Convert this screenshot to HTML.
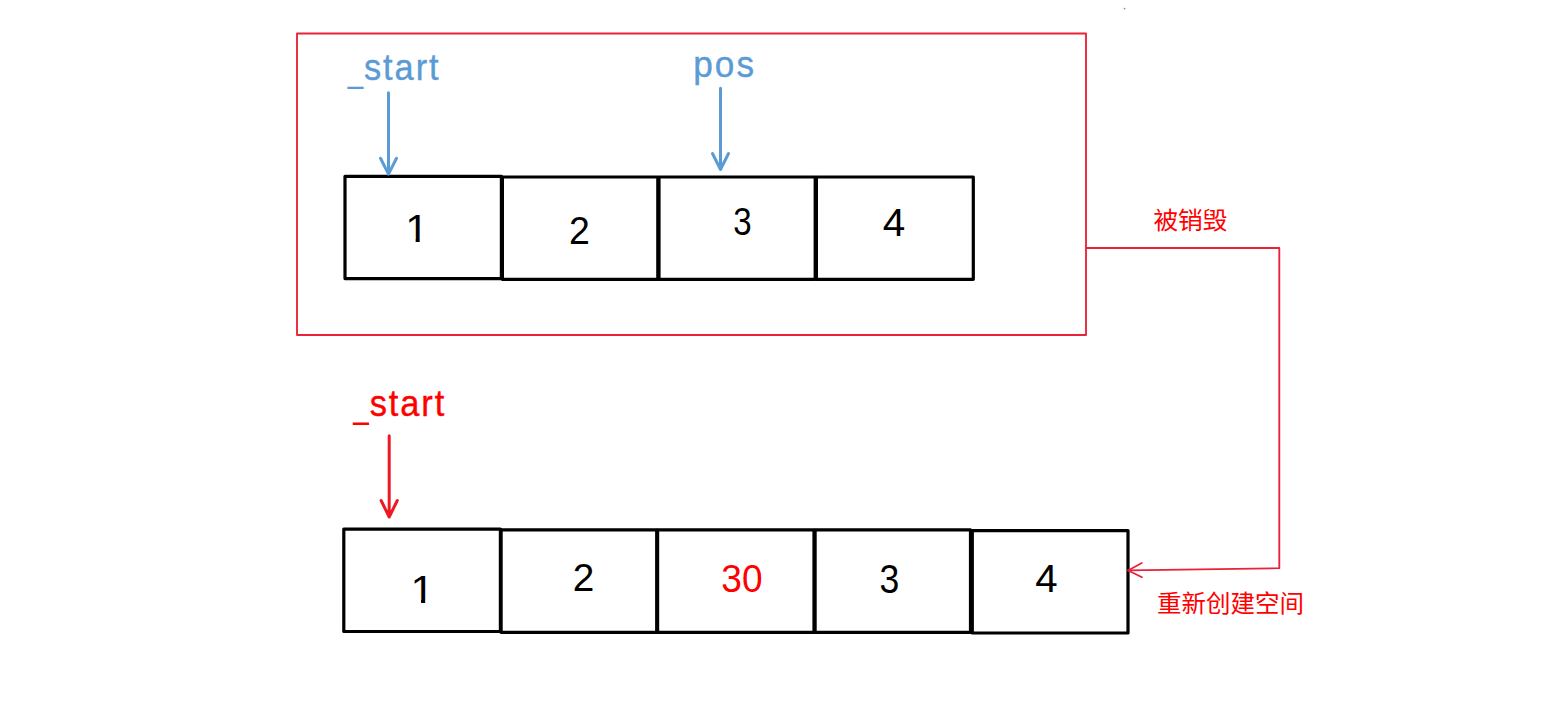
<!DOCTYPE html>
<html lang="zh-CN">
<head>
<meta charset="utf-8">
<title>vector insert – iterator invalidation</title>
<style>
  html, body { margin: 0; padding: 0; background: #ffffff; }
  body { width: 1563px; height: 701px; overflow: hidden; position: relative; }
  svg { position: absolute; left: 0; top: 0; display: block; }
  text { font-family: "Liberation Sans", "Noto Sans CJK SC", sans-serif; }
  .num { font-size: 37.5px; fill: #000000; }
  .lbl { font-size: 37px; stroke-width: 0.4px; stroke-linejoin: round; }
  .cn  { font-size: 24px; fill: #ff0000; }
  .blk { fill: none; stroke: #000000; stroke-width: 3.2; stroke-linejoin: round; }
  .red { fill: none; stroke: #e92238; stroke-width: 1.85; stroke-linejoin: round; stroke-linecap: round; }
  .ba  { fill: none; stroke: #5b9bd5; stroke-width: 3; stroke-linecap: round; stroke-linejoin: round; }
  .ra  { fill: none; stroke: #ec1a24; stroke-width: 3; stroke-linecap: round; stroke-linejoin: round; }
</style>
</head>
<body>
<svg width="1563" height="701" viewBox="0 0 1563 701">
  <rect x="0" y="0" width="1563" height="701" fill="#ffffff"/>

  <defs>
    <!-- keeps flag + stem of the digit 1, trims the base serif (target font has none) -->
    <clipPath id="nofoot" clipPathUnits="userSpaceOnUse">
      <path d="M0,-30 H22 V-2.9 H12.85 V1 H9.25 V-2.9 H0 Z"/>
    </clipPath>
  </defs>

  <!-- stray dot -->
  <circle cx="1124.6" cy="8.6" r="0.9" fill="#5b9bd5"/>

  <!-- red frame around old storage -->
  <rect class="red" x="297" y="33.5" width="789" height="301.5"/>

  <!-- old array -->
  <rect class="blk" x="345" y="176.3" width="156.4" height="102.3"/>
  <rect class="blk" x="502.4" y="177" width="155.4" height="102.3"/>
  <rect class="blk" x="659" y="177" width="156.2" height="102.3"/>
  <rect class="blk" x="816.4" y="177" width="156.9" height="102.3"/>

  <!-- new array -->
  <rect class="blk" x="343.8" y="529.1" width="156.6" height="102.4"/>
  <rect class="blk" x="501.1" y="529.9" width="155.6" height="102.4"/>
  <rect class="blk" x="657.6" y="529.9" width="156.4" height="102.4"/>
  <rect class="blk" x="815.1" y="529.9" width="155.4" height="102.4"/>
  <rect class="blk" x="972.3" y="530.6" width="155.7" height="102.4"/>

  <!-- connector from old storage to new storage -->
  <polyline class="red" points="1086,248 1279.3,248 1279.3,568.2 1128.1,570.4"/>
  <polyline class="red" style="stroke-width:1.7" points="1141.8,563 1128.1,570.4 1142,577.2"/>

  <!-- blue arrows -->
  <path class="ba" d="M388.5,92.8 L388.5,174.1 M380.5,158.3 L388.5,174.1 L396.5,158.3"/>
  <path class="ba" d="M720.5,88.3 L720.5,169.5 M712.5,153.5 L720.5,169.5 L728.5,153.5"/>

  <!-- red arrow -->
  <path class="ra" d="M389.2,435.8 L389.2,517 M381.1,500.5 L389.2,517 L397.3,500.5"/>

  <!-- labels -->
  <text class="lbl" transform="translate(347.75,81.91) scale(0.7500,0.9583)" style="fill:#5b9bd5">_</text>
  <text class="lbl" transform="translate(363.97,80.21) scale(0.9300,0.9753)" letter-spacing="2.083" style="fill:#5b9bd5;stroke:#5b9bd5">start</text>
  <text class="lbl" transform="translate(693.22,77.47) scale(0.9500,1.0036)" letter-spacing="2.208" style="fill:#5b9bd5;stroke:#5b9bd5">pos</text>
  <text class="lbl" transform="translate(353.25,417.29) scale(0.7546,1.0417)" style="fill:#ff0000">_</text>
  <text class="lbl" transform="translate(369.77,416.10) scale(0.9300,0.9918)" letter-spacing="2.029" style="fill:#ff0000;stroke:#ff0000">start</text>
  <!-- numbers, old array -->
  <text class="num" transform="translate(405.26,241.90) scale(1.1209,1.0465)" clip-path="url(#nofoot)">1</text>
  <text class="num" transform="translate(569.10,244.00) scale(1.0000,1.0382)">2</text>
  <text class="num" transform="translate(733.17,235.18) scale(0.8820,1.0451)">3</text>
  <text class="num" transform="translate(882.83,236.00) scale(1.0794,1.0271)">4</text>
  <!-- numbers, new array -->
  <text class="num" transform="translate(410.49,603.00) scale(1.1429,1.0543)" clip-path="url(#nofoot)">1</text>
  <text class="num" transform="translate(572.73,591.00) scale(1.0351,1.0382)">2</text>
  <text class="num" transform="translate(721.31,592.38) scale(0.9897,1.0564)" style="fill:#ff0000">30</text>
  <text class="num" transform="translate(879.57,593.48) scale(0.9494,1.0602)">3</text>
  <text class="num" transform="translate(1035.13,591.90) scale(1.0741,1.0426)">4</text>
  <!-- chinese captions -->
  <text class="cn" transform="translate(1153.38,228.77) scale(1.0298,1.0135)">被销毁</text>
  <text class="cn" transform="translate(1157.07,611.66) scale(1.0213,1.0179)">重新创建空间</text>
</svg>
</body>
</html>
